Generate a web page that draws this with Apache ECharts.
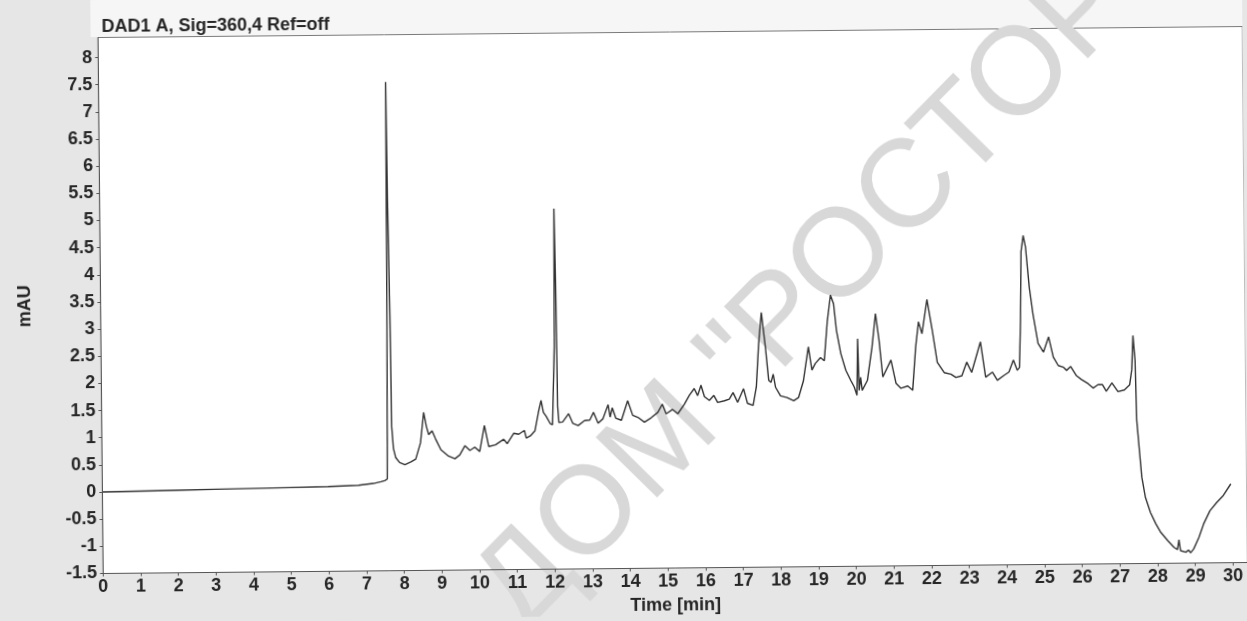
<!DOCTYPE html>
<html>
<head>
<meta charset="utf-8">
<script src="https://cdn.jsdelivr.net/npm/echarts@6/dist/echarts.min.js"></script>
<style>
html,body{margin:0;padding:0;background:#e6e6e6;overflow:hidden;width:1247px;height:621px;}
#c{width:1247px;height:621px;background:#e6e6e6;transform:rotate(-0.55deg);transform-origin:102px 492px;}
</style>
</head>
<body>
<div id="c"></div>
<script>
const titleText = 'DAD1 A, Sig=360,4 Ref=off';
const xName = 'Time [min]';
const yName = 'mAU';
const watermarkText = 'ДОМ "РОСТОР';

const times = [0,1,2,3,4,5,6,6.8,7.2,7.4,7.5,7.57,7.6,7.625,7.645,7.68,7.7,7.74,7.8,7.9,8.04,8.2,8.33,8.46,8.55,8.62,8.68,8.77,8.86,9.0,9.2,9.37,9.5,9.64,9.77,9.9,10.03,10.16,10.27,10.45,10.67,10.76,10.94,11.07,11.22,11.27,11.38,11.5,11.6,11.67,11.73,11.8,11.91,11.97,12.035,12.06,12.085,12.11,12.14,12.24,12.4,12.51,12.65,12.82,12.96,13.06,13.18,13.31,13.45,13.5,13.56,13.65,13.8,13.97,14.1,14.24,14.41,14.59,14.77,14.89,14.99,15.16,15.3,15.47,15.61,15.74,15.83,15.92,16.01,16.14,16.26,16.36,16.54,16.67,16.77,16.89,17.05,17.15,17.3,17.39,17.46,17.54,17.64,17.72,17.78,17.84,17.9,18.03,18.2,18.38,18.51,18.64,18.78,18.87,18.96,19.1,19.2,19.29,19.38,19.46,19.53,19.64,19.77,19.9,19.99,20.06,20.09,20.12,20.16,20.2,20.34,20.47,20.57,20.66,20.75,20.97,21.1,21.23,21.41,21.54,21.63,21.71,21.8,21.94,22.07,22.2,22.38,22.56,22.69,22.85,22.98,23.11,23.35,23.48,23.66,23.79,23.97,24.1,24.22,24.32,24.38,24.42,24.45,24.51,24.57,24.66,24.75,24.88,25.02,25.16,25.28,25.41,25.54,25.63,25.74,25.89,26.02,26.2,26.33,26.46,26.58,26.68,26.83,26.99,27.16,27.3,27.36,27.4,27.45,27.48,27.55,27.6,27.69,27.82,27.96,28.09,28.27,28.44,28.53,28.57,28.61,28.75,28.82,28.88,28.96,29.1,29.23,29.4,29.58,29.76,29.96];
const mAU = [0.00,0.01,0.02,0.03,0.04,0.05,0.06,0.08,0.11,0.14,0.16,0.19,3.0,7.5,5.3,3.2,1.15,0.75,0.58,0.49,0.45,0.5,0.55,0.85,1.41,1.15,1.0,1.07,0.92,0.72,0.6,0.55,0.62,0.79,0.7,0.76,0.68,1.16,0.77,0.8,0.9,0.82,1.01,0.99,1.06,0.92,0.96,1.05,1.4,1.61,1.39,1.32,1.18,1.16,2.6,5.14,3.8,1.5,1.2,1.21,1.36,1.18,1.14,1.23,1.24,1.38,1.18,1.26,1.52,1.29,1.46,1.27,1.23,1.59,1.32,1.28,1.19,1.27,1.37,1.52,1.34,1.42,1.34,1.51,1.68,1.8,1.67,1.86,1.65,1.58,1.67,1.54,1.57,1.6,1.72,1.54,1.79,1.52,1.48,1.82,2.6,3.19,2.55,1.94,1.9,2.05,1.81,1.65,1.62,1.56,1.62,1.92,2.55,2.12,2.24,2.35,2.29,3.02,3.5,3.34,2.85,2.42,2.11,1.92,1.8,1.65,2.69,1.74,1.98,1.74,1.92,2.53,3.15,2.65,1.98,2.29,1.86,1.77,1.81,1.73,2.53,2.99,2.77,3.4,2.85,2.24,2.05,2.02,1.96,1.99,2.24,2.05,2.61,1.96,2.05,1.9,1.99,2.05,2.27,2.08,2.13,2.99,4.26,4.56,4.35,3.61,3.12,2.57,2.41,2.69,2.32,2.16,2.13,2.07,2.14,1.97,1.9,1.82,1.74,1.8,1.8,1.68,1.83,1.67,1.7,1.79,2.07,2.7,2.24,1.14,0.52,0.09,-0.28,-0.56,-0.77,-0.93,-1.08,-1.21,-1.25,-1.07,-1.27,-1.3,-1.26,-1.31,-1.24,-1.03,-0.78,-0.54,-0.39,-0.26,-0.05];

const F = '"Liberation Sans", Arial, sans-serif';
const TXT = '#262626';
const data = times.map((t, i) => [t, mAU[i]]);

const chart = echarts.init(document.getElementById('c'), null, {renderer: 'canvas', width: 1247, height: 621});
chart.setOption({
  animation: false,
  backgroundColor: 'transparent',
  title: {
    text: titleText, left: 101, top: 13,
    textStyle: {fontFamily: F, fontSize: 18, fontWeight: 'bold', color: TXT}
  },
  graphic: [
    {type: 'rect', z: 0, silent: true, shape: {x: 95, y: 0, width: 1160, height: 37}, style: {fill: '#f6f6f6'}},
    {type: 'text', z: 1, silent: true, x: 808, y: 303, rotation: Math.PI / 4,
     style: {text: watermarkText, font: '125px "Liberation Sans", Arial, sans-serif', fill: '#d8d8d8', align: 'center', verticalAlign: 'middle'}}
  ],
  grid: {left: 102.3, right: 0, top: 37.5, bottom: 47.5, show: true, backgroundColor: '#ffffff', borderColor: '#7a7a7a', borderWidth: 1, outerBoundsMode: 'none', containLabel: false},
  xAxis: {
    type: 'value', min: 0, max: 30.39, interval: 1, z: 3,
    name: xName, nameLocation: 'middle', nameGap: 29,
    nameTextStyle: {fontFamily: F, fontSize: 18, fontWeight: 'bold', color: TXT},
    axisLine: {onZero: false, lineStyle: {color: '#555', width: 1}},
    axisTick: {show: true, length: 3, lineStyle: {color: '#555'}},
    axisLabel: {margin: 5, showMaxLabel: false, fontFamily: F, fontSize: 18, fontWeight: 'bold', color: TXT},
    splitLine: {show: false}
  },
  yAxis: {
    type: 'value', min: -1.5, max: 8.37, interval: 0.5, z: 3,
    name: yName, nameLocation: 'middle', nameGap: 66,
    nameTextStyle: {fontFamily: F, fontSize: 18, fontWeight: 'bold', color: TXT},
    axisLine: {onZero: false, lineStyle: {color: '#555', width: 1}},
    axisTick: {show: true, length: 3, lineStyle: {color: '#555'}},
    axisLabel: {margin: 6, showMaxLabel: false, fontFamily: F, fontSize: 18, fontWeight: 'bold', color: TXT},
    splitLine: {show: false}
  },
  series: [{
    type: 'line', data: data, showSymbol: false, smooth: false, z: 2,
    lineStyle: {color: '#333', width: 1.4}
  }]
});
</script>
</body>
</html>
